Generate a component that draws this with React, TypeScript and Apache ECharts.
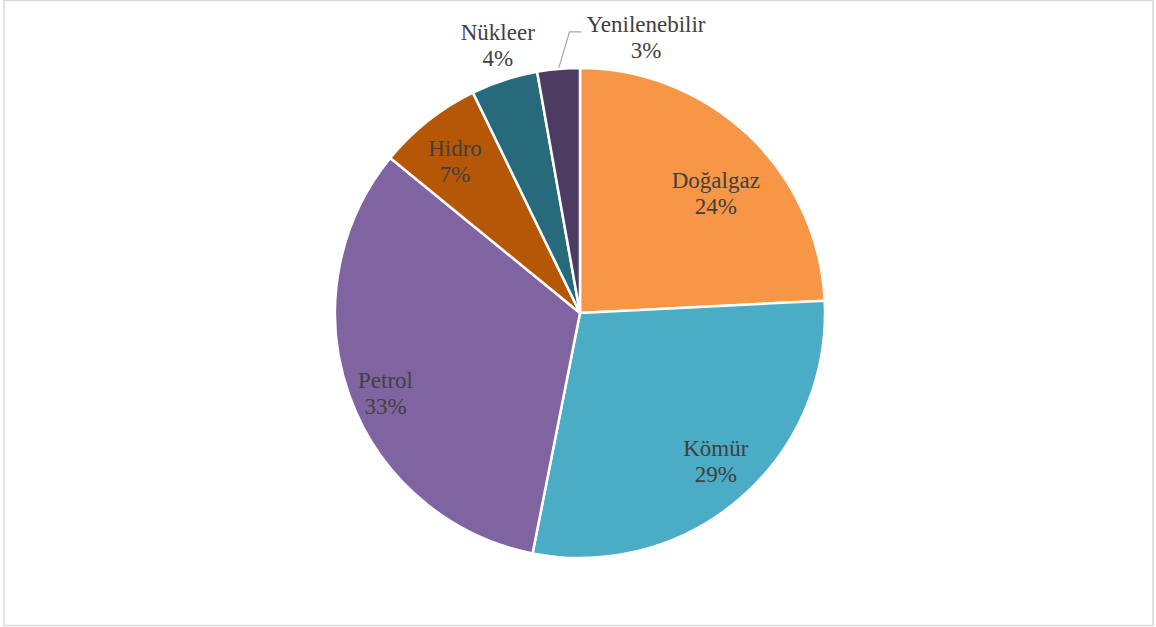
import React, { useEffect, useRef } from "react";
import * as echarts from "echarts";

const categories = ["Doğalgaz", "Kömür", "Petrol", "Hidro", "Nükleer", "Yenilenebilir"];
const values = [24.2, 28.9, 32.8, 6.9, 4.4, 2.8];
const colors = ["#F79646", "#4BACC6", "#8064A2", "#B65708", "#276A7C", "#4D3B62"];
const labelPlacement = ["inner", "inner", "inner", "inner", "outer", "leader"];
const labelNudge = [[-3, 26], [4, -4], [-5, 12], [0, 7], [5, 1], [0, 0]];

const R = 245;
const CENTER = [580, 313];
const FONT = '"Liberation Serif", "Times New Roman", serif';
const TEXT_COLOR = "#404040";

const fmt = (p: any) => `${p.name}\n${Math.round(p.percent)}%`;

export default function App() {
  const ref = useRef<HTMLDivElement>(null);
  useEffect(() => {
    if (!ref.current) return;
    const chart = echarts.init(ref.current, null, { renderer: "svg" });
    const baseLabel = {
      color: TEXT_COLOR,
      fontFamily: FONT,
      fontSize: 23,
      lineHeight: 26,
      formatter: fmt,
    };
    const mainData = categories.map((name, i) => ({
      name,
      value: values[i],
      itemStyle: { color: colors[i] },
      label:
        labelPlacement[i] === "leader"
          ? { show: true, position: "outside", align: "center" }
          : { show: false },
      labelLine: { show: labelPlacement[i] === "leader" },
    }));
    const overlayData = (kind: string) =>
      categories.map((name, i) => ({
        name,
        value: values[i],
        itemStyle: { color: "rgba(0,0,0,0)", borderWidth: 0 },
        label: { show: labelPlacement[i] === kind, offset: labelNudge[i] },
      }));
    chart.setOption({
      animation: false,
      graphic: [
        {
          type: "rect",
          shape: { x: 4, y: 0.5, width: 1149, height: 625 },
          style: { fill: "none", stroke: "#d9d9d9", lineWidth: 1.5 },
          silent: true,
        },
      ],
      series: [
        {
          type: "pie",
          center: CENTER,
          radius: [0, R],
          startAngle: 90,
          clockwise: true,
          silent: true,
          emphasis: { disabled: true },
          itemStyle: { borderColor: "#ffffff", borderWidth: 2.5 },
          label: { ...baseLabel },
          labelLine: {
            show: true,
            lineStyle: { color: "#a6a6a6", width: 1.2 },
          },
          labelLayout: (params: any) => {
            if (params.dataIndex !== 5 || !params.labelLinePoints) return {};
            const p0 = params.labelLinePoints[0];
            const p1 = [p0[0] + 11, p0[1] - 37];
            const p2 = [p1[0] + 12, p1[1]];
            return {
              x: p2[0] + 5 + params.labelRect.width / 2,
              y: p2[1] + 6,
              align: "center",
              verticalAlign: "middle",
              labelLinePoints: [p0, p1, p2],
            };
          },
          data: mainData,
        },
        {
          type: "pie",
          center: CENTER,
          radius: [R * 0.62, R],
          startAngle: 90,
          clockwise: true,
          silent: true,
          emphasis: { disabled: true },
          label: { ...baseLabel, position: "inside" },
          labelLine: { show: false },
          data: overlayData("inner"),
        },
        {
          type: "pie",
          center: CENTER,
          radius: [R, R * 1.28],
          startAngle: 90,
          clockwise: true,
          silent: true,
          emphasis: { disabled: true },
          label: { ...baseLabel, position: "inside" },
          labelLine: { show: false },
          data: overlayData("outer"),
        },
      ],
    });
    return () => chart.dispose();
  }, []);
  return (
    <div
      ref={ref}
      style={{ position: "absolute", left: 0, top: 0, width: 1156, height: 627, background: "#ffffff" }}
    />
  );
}
